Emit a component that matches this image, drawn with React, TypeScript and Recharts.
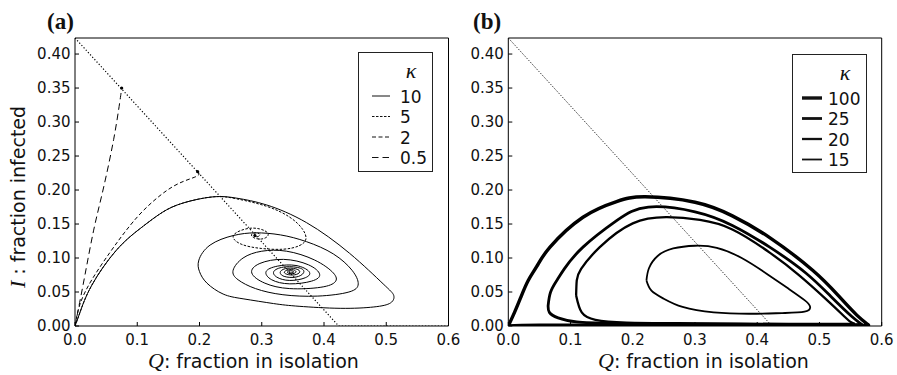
import React from 'react'
import { ComposedChart, Line, XAxis, YAxis, Legend, Label } from 'recharts'

// axis ticks (Q on x, I on y)
const qTicks = [0, 0.1, 0.2, 0.3, 0.4, 0.5, 0.6]
const iTicks = [0, 0.05, 0.1, 0.15, 0.2, 0.25, 0.3, 0.35, 0.4]
const iMax = 0.4236

// panel (a): equilibrium locus and trajectories, [Q, I]
const equilibriaA = [[0, 0.4236], [0.4236, 0], [0.6, 0]]

const kappa10A = [
  [0, 0], [0.008, 0.02], [0.027, 0.06], [0.067, 0.112], [0.107, 0.145], [0.14, 0.167],
  [0.174, 0.181], [0.222, 0.19], [0.26, 0.188], [0.308, 0.178], [0.372, 0.152],
  [0.441, 0.107], [0.495, 0.062], [0.512, 0.045], [0.507, 0.034], [0.48, 0.028],
  [0.426, 0.026], [0.36, 0.029], [0.319, 0.033], [0.27, 0.04], [0.238, 0.047],
  [0.212, 0.063], [0.2, 0.08], [0.199, 0.097], [0.217, 0.119], [0.254, 0.133],
  [0.29, 0.137], [0.33, 0.134], [0.372, 0.124], [0.415, 0.106], [0.445, 0.082],
  [0.455, 0.062], [0.44, 0.05], [0.39, 0.044], [0.334, 0.046], [0.29, 0.055],
  [0.262, 0.068], [0.254, 0.082], [0.27, 0.1], [0.3, 0.11], [0.34, 0.11],
  [0.385, 0.097], [0.415, 0.078], [0.418, 0.065], [0.395, 0.057], [0.345, 0.055],
  [0.305, 0.063], [0.284, 0.078], [0.297, 0.092], [0.335, 0.098], [0.375, 0.09],
  [0.393, 0.076], [0.38, 0.066], [0.345, 0.062], [0.316, 0.068], [0.307, 0.08],
  [0.325, 0.088], [0.355, 0.089], [0.376, 0.08], [0.37, 0.071], [0.345, 0.067],
  [0.324, 0.072], [0.32, 0.081], [0.338, 0.087], [0.362, 0.085], [0.367, 0.078],
  [0.355, 0.072], [0.336, 0.073], [0.33, 0.08], [0.342, 0.085], [0.358, 0.083],
  [0.36, 0.078], [0.35, 0.075], [0.338, 0.077], [0.338, 0.081], [0.348, 0.083],
  [0.355, 0.08], [0.35, 0.077], [0.342, 0.078], [0.343, 0.081], [0.349, 0.081],
  [0.351, 0.079], [0.346, 0.078], [0.345, 0.08],
]

const kappa5A = [
  [0, 0], [0.008, 0.02], [0.027, 0.06], [0.067, 0.112], [0.107, 0.145], [0.14, 0.167],
  [0.174, 0.181], [0.222, 0.19], [0.26, 0.187], [0.308, 0.176], [0.345, 0.16],
  [0.365, 0.143], [0.371, 0.128], [0.36, 0.118], [0.335, 0.113], [0.3, 0.114],
  [0.268, 0.12], [0.254, 0.131], [0.265, 0.14], [0.286, 0.144], [0.305, 0.14],
  [0.31, 0.133], [0.3, 0.128], [0.287, 0.13], [0.284, 0.135], [0.292, 0.137],
  [0.297, 0.134], [0.292, 0.131], [0.289, 0.133],
]

const kappa2A = [
  [0, 0], [0.008, 0.032], [0.027, 0.068], [0.056, 0.108], [0.08, 0.138], [0.11, 0.17],
  [0.147, 0.199], [0.175, 0.213], [0.195, 0.22], [0.199, 0.224], [0.197, 0.227],
]

const kappa05A = [
  [0, 0], [0.005, 0.023], [0.016, 0.075], [0.03, 0.141], [0.045, 0.2], [0.062, 0.274],
  [0.072, 0.33], [0.075, 0.35],
]

// panel (b): limit cycles
const equilibriaB = [[0, 0.4236], [0.4236, 0]]

const kappa100B = [
  [0, 0], [0.01, 0.02], [0.02, 0.042], [0.032, 0.067], [0.046, 0.088], [0.067, 0.116],
  [0.12, 0.16], [0.174, 0.183], [0.22, 0.19], [0.3, 0.182], [0.36, 0.162], [0.42, 0.13],
  [0.489, 0.082], [0.53, 0.045], [0.56, 0.016], [0.578, 0.002], [0.55, 0.001],
  [0.4, 0.001], [0.2, 0.001], [0.05, 0.001], [0, 0],
]

const kappa25B = [
  [0.064, 0.03], [0.068, 0.05], [0.078, 0.067], [0.09, 0.084], [0.12, 0.116],
  [0.174, 0.155], [0.225, 0.175], [0.3, 0.168], [0.36, 0.148], [0.42, 0.116],
  [0.478, 0.078], [0.52, 0.042], [0.552, 0.014], [0.567, 0.003], [0.55, 0.002],
  [0.45, 0.002], [0.3, 0.003], [0.17, 0.004], [0.11, 0.006], [0.08, 0.012],
  [0.066, 0.02], [0.064, 0.03],
]

const kappa20B = [
  [0.109, 0.045], [0.11, 0.067], [0.117, 0.084], [0.147, 0.116], [0.2, 0.151],
  [0.255, 0.16], [0.308, 0.156], [0.36, 0.142], [0.42, 0.108], [0.467, 0.075],
  [0.51, 0.04], [0.54, 0.014], [0.552, 0.005], [0.545, 0.003], [0.45, 0.003],
  [0.3, 0.004], [0.19, 0.005], [0.14, 0.009], [0.118, 0.02], [0.109, 0.045],
]

const kappa15B = [
  [0.222, 0.067], [0.226, 0.085], [0.24, 0.103], [0.265, 0.114], [0.3, 0.118],
  [0.335, 0.115], [0.375, 0.1], [0.415, 0.077], [0.45, 0.055], [0.476, 0.038],
  [0.485, 0.028], [0.476, 0.021], [0.44, 0.019], [0.39, 0.018], [0.33, 0.02],
  [0.28, 0.028], [0.25, 0.04], [0.23, 0.052], [0.222, 0.067],
]

const legendLabelsA = ['10', '5', '2', '0.5']
const legendLabelsB = ['100', '25', '20', '15']

const pts = (arr: number[][]) => arr.map(([q, i]) => ({ q, i }))

const sans = "'DejaVu Sans', sans-serif"
const serif = "'Liberation Serif', serif"
const tickStyle = { fontSize: 15, fill: '#111', fontFamily: sans }

// line styles for the two panels
const stylesA = [
  { width: 1, dash: undefined },
  { width: 1, dash: '2.5 1.5' },
  { width: 1, dash: '4 2.5' },
  { width: 1, dash: '6.5 4' },
]
const stylesB = [
  { width: 3.4, dash: undefined },
  { width: 2.8, dash: undefined },
  { width: 2.3, dash: undefined },
  { width: 1.8, dash: undefined },
]

function LegendBox({ labels, styles, lineX, textX, h }: any) {
  return (
    <svg width={75} height={h} style={{ display: 'block' }}>
      <rect x={0.5} y={0.5} width={74} height={h - 1} fill="#fff" stroke="#222" strokeWidth={1} />
      <text x={53} y={26} textAnchor="middle" fontFamily={serif} fontStyle="italic" fontSize={22} fill="#111">
        κ
      </text>
      {labels.map((lab: string, k: number) => {
        const y = 44 + k * 20.5
        return (
          <g key={lab}>
            <line x1={lineX[0]} x2={lineX[1]} y1={y} y2={y} stroke="#111" strokeWidth={styles[k].width} strokeDasharray={styles[k].dash} />
            <text x={textX} y={y + 6.5} fontFamily={sans} fontSize={17} fill="#111">
              {lab}
            </text>
          </g>
        )
      })}
    </svg>
  )
}

const endDot = (n: number) => (props: any) => {
  const { cx, cy, index } = props
  if (index !== n - 1) return <g key={`d${index}`} />
  return <circle key={`d${index}`} cx={cx} cy={cy} r={1.6} fill="#000" />
}

function axes(letter: string, letterX: number, withYLabel: boolean, yWidth: number) {
  return [
    <XAxis
      key="xb"
      type="number"
      dataKey="q"
      domain={[0, 0.6]}
      ticks={qTicks}
      interval={0}
      allowDataOverflow
      tickFormatter={(v: number) => v.toFixed(1)}
      height={30}
      tickSize={-4}
      tickMargin={12}
      tick={tickStyle}
      axisLine={{ stroke: '#000' }}
      tickLine={{ stroke: '#000' }}
    >
      <Label
        content={() => (
          <text x={148} y={368} fill="#111">
            <tspan fontFamily={serif} fontStyle="italic" fontSize={22}>Q</tspan>
            <tspan fontFamily={sans} fontSize={19}>: fraction in isolation</tspan>
          </text>
        )}
      />
    </XAxis>,
    <XAxis
      key="xt"
      xAxisId="top"
      orientation="top"
      type="number"
      domain={[0, 0.6]}
      ticks={qTicks}
      interval={0}
      allowDataOverflow
      height={1}
      tickSize={-4}
      tick={false}
      axisLine={{ stroke: '#000' }}
      tickLine={{ stroke: '#000' }}
    >
      <Label
        content={() => (
          <text x={letterX} y={29} fontFamily={serif} fontWeight="bold" fontSize={23} fill="#111">
            {letter}
          </text>
        )}
      />
    </XAxis>,
    <YAxis
      key="yl"
      type="number"
      dataKey="i"
      domain={[0, iMax]}
      ticks={iTicks}
      interval={0}
      allowDataOverflow
      tickFormatter={(v: number) => v.toFixed(2)}
      width={yWidth}
      tickSize={-4}
      tickMargin={8.5}
      tick={tickStyle}
      axisLine={{ stroke: '#000' }}
      tickLine={{ stroke: '#000' }}
    >
      {withYLabel && (
        <Label
          content={() => (
            <text transform="rotate(-90)" x={-197} y={24.5} textAnchor="middle" fill="#111">
              <tspan fontFamily={serif} fontStyle="italic" fontSize={22}>I</tspan>
              <tspan fontFamily={sans} fontSize={19}> : fraction infected</tspan>
            </text>
          )}
        />
      )}
    </YAxis>,
    <YAxis
      key="yr"
      yAxisId="right"
      orientation="right"
      type="number"
      domain={[0, iMax]}
      ticks={iTicks}
      interval={0}
      allowDataOverflow
      width={1}
      tickSize={-4}
      tick={false}
      axisLine={{ stroke: '#000' }}
      tickLine={{ stroke: '#000' }}
    />,
  ]
}

function PanelA() {
  const curves = [kappa10A, kappa5A, kappa2A, kappa05A]
  return (
    <ComposedChart width={470} height={375} margin={{ top: 37, right: 20.5, bottom: 19, left: 15 }}>
      {axes('(a)', 47, true, 60)}
      <Line data={pts(equilibriaA)} dataKey="i" type="linear" stroke="#000" strokeWidth={1.2} strokeDasharray="1.2 2" dot={false} activeDot={false} isAnimationActive={false} />
      {curves.map((c, k) => (
        <Line
          key={legendLabelsA[k]}
          data={pts(c)}
          dataKey="i"
          type="natural"
          stroke="#000"
          strokeWidth={stylesA[k].width}
          strokeDasharray={stylesA[k].dash}
          dot={k === 0 ? false : endDot(c.length)}
          activeDot={false}
          isAnimationActive={false}
        />
      ))}
      <Legend
        layout="vertical"
        align="center"
        verticalAlign="middle"
        wrapperStyle={{ left: 358, top: 52, width: 75, height: 120 }}
        content={() => <LegendBox labels={legendLabelsA} styles={stylesA} lineX={[14, 32]} textX={42} h={120} />}
      />
    </ComposedChart>
  )
}

function PanelB() {
  const curves = [kappa100B, kappa25B, kappa20B, kappa15B]
  return (
    <ComposedChart width={447} height={375} margin={{ top: 37, right: 14.3, bottom: 19, left: 13.3 }}>
      {axes('(b)', 23, false, 45)}
      <Line data={pts(equilibriaB)} dataKey="i" type="linear" stroke="#000" strokeWidth={1} strokeDasharray="1 1.5" dot={false} activeDot={false} isAnimationActive={false} />
      {curves.map((c, k) => (
        <Line
          key={legendLabelsB[k]}
          data={pts(c)}
          dataKey="i"
          type="natural"
          stroke="#000"
          strokeWidth={stylesB[k].width}
          dot={false}
          activeDot={false}
          isAnimationActive={false}
        />
      ))}
      <Legend
        layout="vertical"
        align="center"
        verticalAlign="middle"
        wrapperStyle={{ left: 341.7, top: 54, width: 75, height: 119 }}
        content={() => <LegendBox labels={legendLabelsB} styles={stylesB} lineX={[10, 30]} textX={36} h={119} />}
      />
    </ComposedChart>
  )
}

export default function App() {
  return (
    <div style={{ position: 'absolute', left: 0, top: 0, width: 897, height: 375, background: '#fff', overflow: 'hidden' }}>
      <div style={{ position: 'absolute', left: 0, top: 0 }}>
        <PanelA />
      </div>
      <div style={{ position: 'absolute', left: 450, top: 0 }}>
        <PanelB />
      </div>
    </div>
  )
}
